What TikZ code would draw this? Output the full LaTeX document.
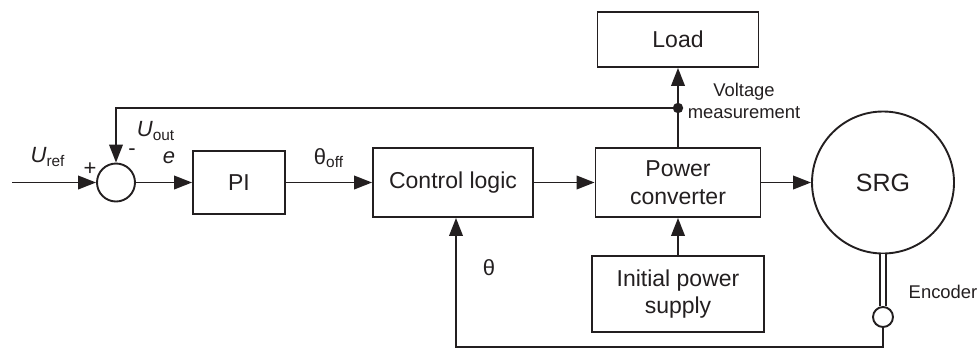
\documentclass[tikz,border=0pt]{standalone}
\usepackage{fontspec}
\setmainfont{Liberation Sans}
\usetikzlibrary{arrows.meta}
\usepackage{xcolor}
\definecolor{ink}{HTML}{231F20}
\tikzset{
  blk/.style    ={rectangle, draw=ink, fill=white, line width=0.95pt,
                  align=center, inner sep=1pt,
                  font=\fontsize{11.5}{13.7}\selectfont, text=ink},
  sumnode/.style={circle, draw=ink, line width=0.95pt, minimum size=19pt, inner sep=0pt},
  machine/.style={circle, draw=ink, line width=0.95pt, minimum size=71pt, inner sep=0pt,
                  font=\fontsize{12.5}{14}\selectfont, text=ink},
  encnode/.style={circle, draw=ink, line width=0.95pt, minimum size=10pt, inner sep=0pt},
  wire/.style   ={draw=ink, line width=0.95pt},
  sig/.style    ={wire, -{Triangle[length=9pt,width=6.8pt]}},
  lbl/.style    ={font=\fontsize{11}{13}\selectfont, text=ink, inner sep=1pt},
  note/.style   ={font=\fontsize{9.2}{11}\selectfont, text=ink, align=center, inner sep=1pt},
}

\begin{document}
\begin{tikzpicture}[x=0.5pt, y=-0.5pt]
\useasboundingbox (0,0) rectangle (979,349);

% ---------------- blocks ----------------
\node[sumnode] (sum) at (116,182.5) {};
\node[blk, minimum width=46pt,   minimum height=31.5pt] (pi)   at (239,182.5) {PI};
\node[blk, minimum width=80pt,   minimum height=34.5pt] (ctrl) at (453,182.5) {Control logic};
\node[blk, minimum width=82.5pt, minimum height=34.5pt] (conv) at (678,182.5) {Power\\converter};
\node[blk, minimum width=80.5pt, minimum height=27.5pt] (load) at (678, 39.5) {Load};
\node[blk, minimum width=86pt,   minimum height=38pt]   (init) at (678,294)   {Initial power\\supply};
\node[machine] (srg) at (883,182.5) {SRG};
\node[encnode] (enc) at (883,317) {};

% ---------------- helper points ----------------
\coordinate (in)  at (12,182.5);
\coordinate (tap) at (678,108);
\coordinate (fbk) at (456,347);

% ---------------- forward path ----------------
\draw[sig] (in) -- (sum.west);
\draw[sig] (sum.east) -- (pi.west);
\draw[sig] (pi.east) -- (ctrl.west);
\draw[sig] (ctrl.east) -- (conv.west);
\draw[sig] (conv.east) -- (srg.west);
\draw[sig] (conv.north) -- (load.south);
\draw[sig] (init.north) -- (conv.south);

% ---------------- feedback paths ----------------
\fill[ink] (tap) circle (2.6pt);
\draw[sig] (tap) -| (sum.north);
\draw[wire, double=white, double distance=2.1pt] (srg.south) -- (enc.north);
\draw[sig] (enc.south) |- (fbk) -- (fbk |- ctrl.south);

% ---------------- labels ----------------
\node[lbl] (uref)  at (48,157)  {\textit{U}\textsubscript{ref}};
\node[lbl] (plus)  at (90,169)  {+};
\node[lbl] (minus) at (132,152) {-};
\node[lbl] (uout)  at (156,131) {\textit{U}\textsubscript{out}};
\node[lbl] (err)   at (169,158) {\textit{e}};
\node[lbl] (thoff) at (329,158) {θ\textsubscript{off}};
\node[lbl] (theta) at (489,268) {θ};
\node[note] (vmeas)  at (744,101) {Voltage\\measurement};
\node[note] (enclbl) at (943,292) {Encoder};

\end{tikzpicture}
\end{document}
